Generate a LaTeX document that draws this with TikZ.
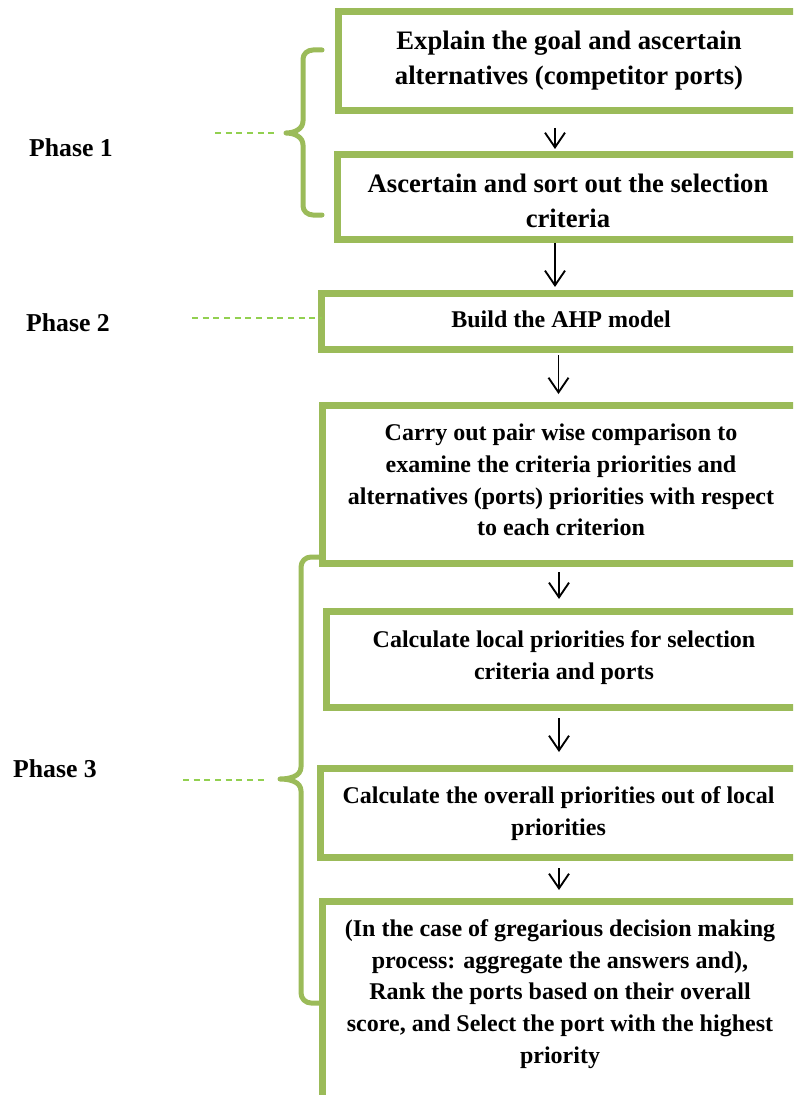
\documentclass[tikz,border=0pt]{standalone}
\usepackage{fontspec}
\setmainfont{Liberation Serif}
\usetikzlibrary{arrows.meta,fit}
\definecolor{boxgreen}{HTML}{9BBB59}
\definecolor{dashgreen}{HTML}{92D050}
\begin{document}
\begin{tikzpicture}[x=0.75pt,y=-0.75pt,
  stepbox/.style={draw=boxgreen,line width=5.25pt,inner sep=0pt,outer sep=0pt},
  big/.style={font=\fontsize{20}{26.25}\selectfont\bfseries,align=center,inner sep=0pt},
  txt/.style={font=\fontsize{18}{23.8}\selectfont\bfseries,align=center,inner sep=0pt},
  phase/.style={font=\fontsize{19.3}{23}\selectfont\bfseries,inner sep=0pt},
  arr/.style={line width=1.4pt,-{Straight Barb[length=11pt,width=15pt]}},
  phasedash/.style={draw=dashgreen,line width=1.5pt,dash pattern=on 4.5pt off 3.5pt},
  brace/.style={draw=boxgreen,line width=3.75pt,line cap=round,line join=round}]
\useasboundingbox (0,0) rectangle (793,1095);
\clip (0,0) rectangle (793,1095);

% process boxes (right edges run past the page)
\node[stepbox,fit={(338.5,11.5) (800,110.5)}] (b1) {};
\node[stepbox,fit={(337.5,155) (800,239.5)}] (b2) {};
\node[stepbox,fit={(321.5,293.5) (800,349)}] (b3) {};
\node[stepbox,fit={(322.5,405.5) (800,563.5)}] (b4) {};
\node[stepbox,fit={(326.5,611.5) (800,707.5)}] (b5) {};
\node[stepbox,fit={(320,768) (800,857.5)}] (b6) {};
\node[stepbox,fit={(322.5,901) (800,1110)}] (b7) {};

% box texts
\node[big] (t1) at (569,61) {Explain the goal and ascertain\\alternatives (competitor ports)};
\node[big] (t2) at (568,200.5) {Ascertain and sort out the selection\\criteria};
\node[txt] (t3) at (561,319.7) {Build the AHP model};
\node[txt] (t4) at (561,480) {Carry out pair wise comparison to\\examine the criteria priorities and\\alternatives (ports) priorities with respect\\to each criterion};
\node[txt] (t5) at (564,657.3) {Calculate local priorities for selection\\criteria and ports};
\node[txt] (t6) at (558.5,813.4) {Calculate the overall priorities out of local\\priorities};
\node[txt] (t7) at (560,994) {(In the case of gregarious decision making\\process: aggregate the answers and),\\Rank the ports based on their overall\\score, and Select the port with the highest\\priority};

% phase labels
\node[phase] (p1) at (71,148) {Phase 1};
\node[phase] (p2) at (68,323) {Phase 2};
\node[phase] (p3) at (55,769) {Phase 3};

% arrows between the boxes
\coordinate (ax1) at (555,0);
\coordinate (ax2) at (555,0);
\coordinate (ax3) at (558.5,0);
\coordinate (ax4) at (559,0);
\draw[arr,shorten <=13.1pt,shorten >=4.5pt] (b1.south -| ax1) -- (b2.north -| ax1);
\draw[arr,shorten <=2.6pt,shorten >=4.9pt] (b2.south -| ax2) -- (b3.north -| ax2);
\draw[arr,shorten <=4.5pt,shorten >=8.6pt] (b3.south -| ax3) -- (b4.north -| ax3);
\draw[arr,shorten <=6.4pt,shorten >=9.4pt] (b4.south -| ax4) -- (b5.north -| ax4);
\draw[arr,shorten <=7.9pt,shorten >=12pt] (b5.south -| ax4) -- (b6.north -| ax4);
\draw[arr,shorten <=7.9pt,shorten >=8.25pt] (b6.south -| ax4) -- (b7.north -| ax4);

% dashed leaders of the phases
\coordinate (d1) at (215,133);
\coordinate (tip1) at (279,133);
\coordinate (d2) at (192,318);
\coordinate (d3) at (183,780);
\coordinate (tip3) at (267,780);
\draw[phasedash] (d1) -- (tip1);
\draw[phasedash] (d2) -- (d2 -| b3.west);
\draw[phasedash] (d3) -- (tip3);

% curly braces grouping the steps of phases 1 and 3
\draw[brace] (322,50) -- (313,50) to[out=180,in=90] (303,59) -- (303,121)
  to[out=-90,in=0] (286,133) to[out=0,in=90] (303,145) -- (303,206)
  to[out=-90,in=180] (313,215) -- (322,215);
\draw[brace] (320,557) -- (311,557) to[out=180,in=90] (301,567) -- (301,767)
  to[out=-90,in=0] (280,779) to[out=0,in=90] (301,791) -- (301,993)
  to[out=-90,in=180] (311,1003) -- (320,1003);
\end{tikzpicture}
\end{document}
